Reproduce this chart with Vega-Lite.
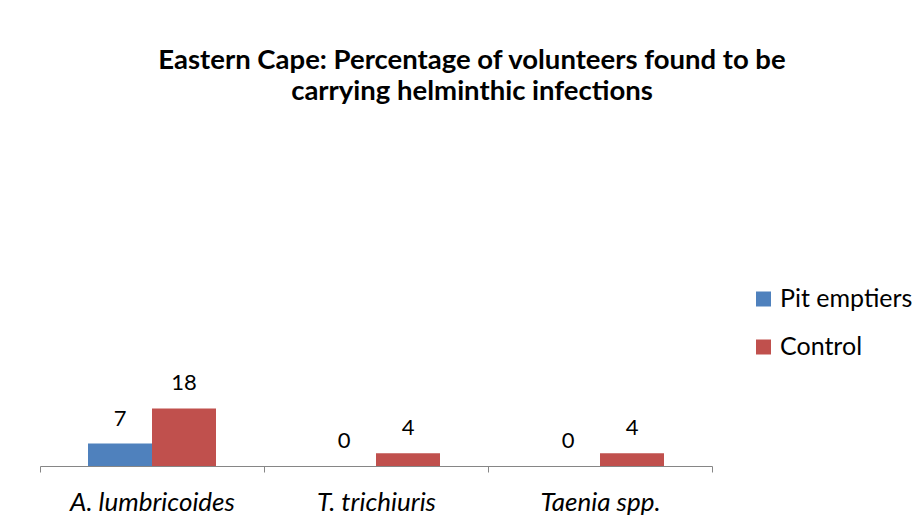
{
  "$schema": "https://vega.github.io/schema/vega-lite/v6.json",
  "width": 672,
  "height": 320,
  "autosize": {"type": "none"},
  "padding": {"left": 40, "top": 146, "right": 207, "bottom": 60},
  "background": "white",
  "title": {
    "text": ["Eastern Cape: Percentage of volunteers found to be", "carrying helminthic infections"],
    "font": "Lato",
    "fontSize": 27.5,
    "fontWeight": "bold",
    "color": "black",
    "lineHeight": 31,
    "anchor": "middle",
    "dx": 96,
    "offset": 41
  },
  "data": {
    "values": [
      {"species": "A. lumbricoides", "group": "Pit emptiers", "value": 7},
      {"species": "A. lumbricoides", "group": "Control", "value": 18},
      {"species": "T. trichiuris", "group": "Pit emptiers", "value": 0},
      {"species": "T. trichiuris", "group": "Control", "value": 4},
      {"species": "Taenia spp.", "group": "Pit emptiers", "value": 0},
      {"species": "Taenia spp.", "group": "Control", "value": 4}
    ]
  },
  "encoding": {
    "x": {
      "field": "species",
      "type": "nominal",
      "sort": ["A. lumbricoides", "T. trichiuris", "Taenia spp."],
      "scale": {"paddingInner": 0, "paddingOuter": 0},
      "axis": {
        "title": null,
        "labelAngle": 0,
        "domainColor": "#868686",
        "ticks": true,
        "tickColor": "#868686",
        "tickWidth": 1,
        "tickOpacity": 1,
        "tickSize": 6,
        "tickBand": "extent",
        "labelFont": "Lato",
        "labelFontStyle": "italic",
        "labelFontSize": 26,
        "labelColor": "black",
        "labelPadding": 17
      }
    },
    "xOffset": {
      "field": "group",
      "type": "nominal",
      "sort": ["Pit emptiers", "Control"],
      "scale": {"paddingInner": 0, "paddingOuter": 0.75}
    },
    "y": {"field": "value", "type": "quantitative", "scale": {"domain": [0, 100]}, "axis": null}
  },
  "layer": [
    {
      "mark": {"type": "bar"},
      "encoding": {
        "color": {
          "field": "group",
          "type": "nominal",
          "sort": ["Pit emptiers", "Control"],
          "scale": {"domain": ["Pit emptiers", "Control"], "range": ["#4F81BD", "#C0504D"]},
          "legend": {
            "title": null,
            "orient": "none",
            "legendX": 711,
            "legendY": 140.5,
            "symbolType": "square",
            "symbolSize": 225,
            "symbolStrokeWidth": 0,
            "labelFont": "Lato",
            "labelFontSize": 25,
            "labelColor": "black",
            "labelOffset": 4,
            "rowPadding": 22,
            "padding": 0
          }
        }
      }
    },
    {
      "mark": {"type": "text", "baseline": "alphabetic", "dy": -18, "font": "Lato", "fontSize": 22, "color": "black"},
      "encoding": {"text": {"field": "value", "type": "quantitative"}}
    }
  ],
  "config": {"view": {"stroke": null}, "axis": {"grid": false}}
}
